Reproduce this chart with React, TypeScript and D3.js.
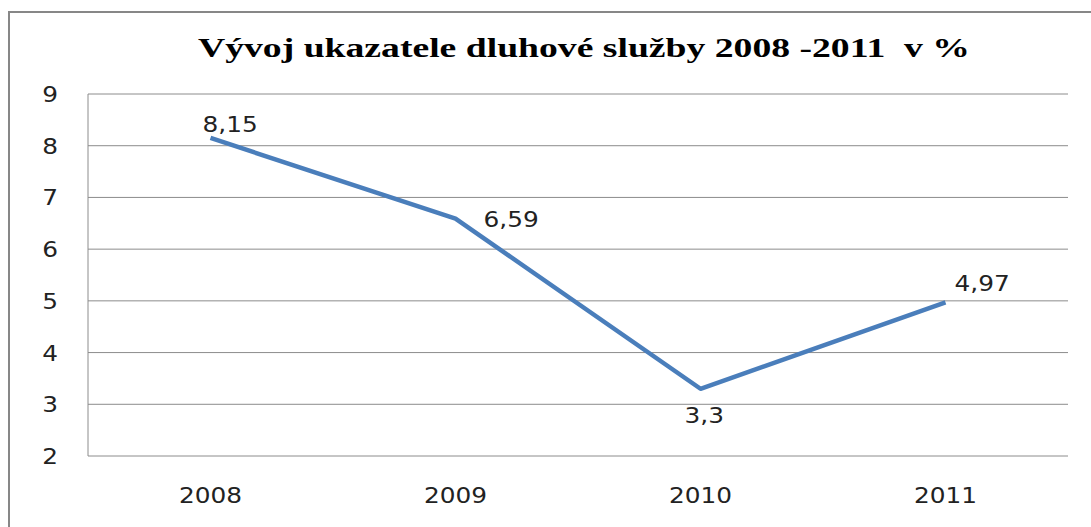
import { useEffect, useRef } from "react";
import { scaleBand, scaleLinear, line, select } from "d3";

const years = ["2008", "2009", "2010", "2011"];
const values = [8.15, 6.59, 3.3, 4.97];
const valueLabels = ["8,15", "6,59", "3,3", "4,97"];
const yTicks = [2, 3, 4, 5, 6, 7, 8, 9];
const title = "Vývoj ukazatele dluhové služby 2008 -2011  v %";

// where each data label sits relative to its point
const labelOffsets = [
  { dx: -8, dy: -6, anchor: "start" },
  { dx: 28, dy: 8, anchor: "start" },
  { dx: -16, dy: 34, anchor: "start" },
  { dx: 9, dy: -11, anchor: "start" },
];

export default function App() {
  const svgRef = useRef<SVGSVGElement | null>(null);

  useEffect(() => {
    if (!svgRef.current) return;
    const svg = select(svgRef.current);
    svg.selectAll("*").remove();

    const width = 1091;
    const height = 527;
    const plot = { left: 88, right: 1068, top: 94, bottom: 456 };
    const font = "'DejaVu Sans', sans-serif";
    const stretch = 1.18;

    const x = scaleBand<string>().domain(years).range([plot.left, plot.right]);
    const y = scaleLinear().domain([2, 9]).range([plot.bottom, plot.top]);
    const cx = (d: string) => (x(d) ?? 0) + x.bandwidth() / 2;

    svg.attr("width", width).attr("height", height);
    svg.append("rect").attr("width", width).attr("height", height).attr("fill", "#fff");

    // outer chart border (extends past the picture on right and bottom)
    svg
      .append("rect")
      .attr("x", 9)
      .attr("y", 12)
      .attr("width", 1200)
      .attr("height", 600)
      .attr("fill", "none")
      .attr("stroke", "#878787")
      .attr("stroke-width", 2);

    svg
      .append("text")
      .attr("x", 198)
      .attr("y", 57)
      .attr("textLength", 772)
      .attr("lengthAdjust", "spacingAndGlyphs")
      .attr("font-family", "'Liberation Serif', 'Times New Roman', serif")
      .attr("font-weight", "bold")
      .attr("font-size", 27)
      .attr("fill", "#000")
      .style("white-space", "pre")
      .text(title);

    // gridlines
    svg
      .append("g")
      .selectAll("line")
      .data(yTicks)
      .join("line")
      .attr("x1", plot.left)
      .attr("x2", plot.right)
      .attr("y1", (d) => y(d))
      .attr("y2", (d) => y(d))
      .attr("stroke", "#8c8c8c")
      .attr("stroke-width", 1);

    // vertical axis line
    svg
      .append("line")
      .attr("x1", plot.left)
      .attr("x2", plot.left)
      .attr("y1", plot.top)
      .attr("y2", plot.bottom)
      .attr("stroke", "#8c8c8c")
      .attr("stroke-width", 1);

    // y tick labels
    svg
      .append("g")
      .selectAll("text")
      .data(yTicks)
      .join("text")
      .attr("transform", (d) => `translate(58, ${y(d) + 8}) scale(${stretch}, 1)`)
      .attr("text-anchor", "end")
      .attr("font-family", font)
      .attr("font-size", 21)
      .attr("fill", "#222")
      .text((d) => String(d));

    // x tick labels
    svg
      .append("g")
      .selectAll("text")
      .data(years)
      .join("text")
      .attr("transform", (d) => `translate(${cx(d)}, 503) scale(${stretch}, 1)`)
      .attr("text-anchor", "middle")
      .attr("font-family", font)
      .attr("font-size", 21)
      .attr("fill", "#222")
      .text((d) => d);

    const path = line<number>()
      .x((_, i) => cx(years[i]))
      .y((d) => y(d));

    svg
      .append("path")
      .attr("d", path(values) ?? "")
      .attr("fill", "none")
      .attr("stroke", "#4a7ebb")
      .attr("stroke-width", 4.5)
      .attr("stroke-linejoin", "round");

    svg
      .append("g")
      .selectAll("text")
      .data(values)
      .join("text")
      .attr(
        "transform",
        (d, i) =>
          `translate(${cx(years[i]) + labelOffsets[i].dx}, ${y(d) + labelOffsets[i].dy}) scale(${stretch}, 1)`
      )
      .attr("text-anchor", (_, i) => labelOffsets[i].anchor)
      .attr("font-family", font)
      .attr("font-size", 21)
      .attr("fill", "#222")
      .text((_, i) => valueLabels[i]);
  }, []);

  return (
    <div style={{ position: "absolute", left: 0, top: 0 }}>
      <svg ref={svgRef} style={{ display: "block" }} aria-label="Vývoj ukazatele dluhové služby" />
    </div>
  );
}
